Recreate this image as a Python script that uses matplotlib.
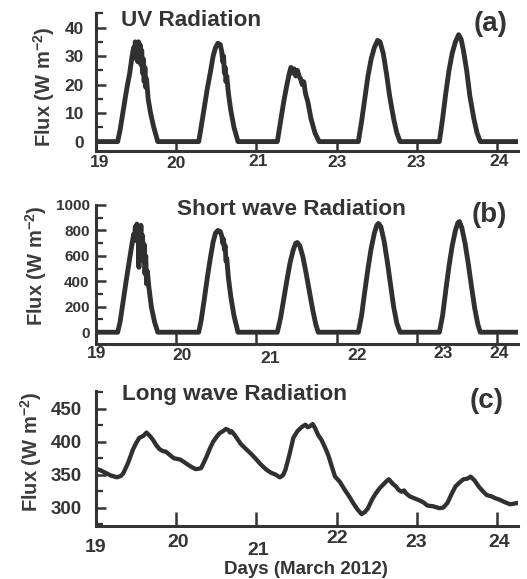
import matplotlib
matplotlib.use("Agg")
import matplotlib.pyplot as plt
import numpy as np

# ---------------- data ----------------
uv_time = [19.00, 19.27, 19.30, 19.34, 19.38, 19.42, 19.45, 19.47, 19.48, 19.49, 19.50, 19.51, 19.52,
           19.53, 19.54, 19.55, 19.56, 19.57, 19.58, 19.59, 19.60, 19.61, 19.62, 19.63, 19.65, 19.68,
           19.72, 19.77,
           20.28, 20.31, 20.35, 20.39, 20.43, 20.46, 20.49, 20.52, 20.55, 20.57, 20.58, 20.59, 20.60,
           20.61, 20.62, 20.63, 20.65, 20.68, 20.72, 20.77,
           21.26, 21.30, 21.34, 21.38, 21.41, 21.43, 21.45, 21.47, 21.49, 21.51, 21.53, 21.55, 21.57,
           21.59, 21.61, 21.64, 21.68, 21.73, 21.78,
           22.27, 22.31, 22.35, 22.39, 22.43, 22.47, 22.51, 22.54, 22.58, 22.62, 22.66, 22.71, 22.75, 22.79,
           23.28, 23.32, 23.36, 23.40, 23.44, 23.48, 23.52, 23.55, 23.58, 23.62, 23.66, 23.71, 23.75, 23.79,
           24.30]
uv_flux = [0, 0, 4, 11, 18, 24, 30, 33, 30, 35, 29, 34, 28,
           35, 30, 34, 27, 32, 24, 29, 21, 26, 19, 22, 15, 10,
           5, 0,
           0, 5, 12, 19, 25, 30, 33, 34.5, 34, 31, 28, 30, 24,
           26, 21, 23, 17, 11, 5, 0,
           0, 7, 14, 20, 24, 26, 24, 25.5, 23, 25, 23, 22, 20,
           21, 17, 14, 8, 3, 0,
           0, 7, 15, 23, 29, 33, 35.5, 35, 31, 24, 16, 8, 3, 0,
           0, 8, 17, 25, 31, 35, 37.5, 36, 32, 25, 16, 8, 3, 0,
           0]

sw_time = [19.00, 19.27, 19.30, 19.34, 19.38, 19.42, 19.45, 19.47, 19.48, 19.49, 19.50, 19.51, 19.52,
           19.53, 19.535, 19.54, 19.55, 19.56, 19.57, 19.58, 19.59, 19.60, 19.61, 19.62, 19.63, 19.64,
           19.66, 19.69, 19.73, 19.77,
           20.28, 20.31, 20.35, 20.39, 20.43, 20.46, 20.49, 20.52, 20.55, 20.57, 20.58, 20.59, 20.60,
           20.61, 20.62, 20.63, 20.65, 20.68, 20.72, 20.77,
           21.26, 21.30, 21.34, 21.38, 21.42, 21.46, 21.49, 21.51, 21.54, 21.58, 21.62, 21.66, 21.70,
           21.74, 21.77,
           22.27, 22.31, 22.35, 22.39, 22.43, 22.47, 22.50, 22.52, 22.55, 22.59, 22.63, 22.67, 22.71,
           22.75, 22.79,
           23.28, 23.32, 23.36, 23.40, 23.44, 23.48, 23.51, 23.53, 23.56, 23.60, 23.64, 23.68, 23.72,
           23.76, 23.79,
           24.30]
sw_flux = [0, 0, 80, 250, 420, 580, 700, 770, 720, 830, 740, 850, 760,
           830, 510, 800, 700, 840, 640, 760, 560, 690, 460, 600, 380, 480,
           350, 200, 80, 0,
           0, 90, 260, 440, 600, 710, 780, 800, 790, 750, 700, 730, 650,
           680, 560, 580, 430, 280, 130, 0,
           0, 110, 260, 410, 550, 650, 700, 705, 680, 590, 460, 320, 180,
           60, 0,
           0, 130, 320, 500, 660, 780, 840, 855, 830, 720, 560, 380, 200,
           70, 0,
           0, 130, 330, 520, 680, 800, 860, 870, 820, 700, 540, 360, 190,
           60, 0,
           0]

lw_time = [19.00, 19.05, 19.10, 19.18, 19.26, 19.31, 19.34, 19.40, 19.46, 19.50, 19.54, 19.59,
           19.63, 19.67, 19.71, 19.75, 19.79, 19.83, 19.87, 19.92, 19.97, 20.01, 20.05, 20.10,
           20.16, 20.20, 20.24, 20.28, 20.31, 20.35, 20.38, 20.42, 20.46, 20.50, 20.54, 20.58,
           20.62, 20.65, 20.67, 20.69, 20.73, 20.81, 20.87, 20.93, 21.00, 21.05, 21.12, 21.18,
           21.24, 21.29, 21.33, 21.36, 21.41, 21.46, 21.51, 21.56, 21.61, 21.64, 21.67, 21.70,
           21.73, 21.77, 21.81, 21.86, 21.90, 21.94, 21.98, 22.04, 22.10, 22.15, 22.21, 22.26,
           22.31, 22.35, 22.39, 22.44, 22.49, 22.54, 22.58, 22.62, 22.65, 22.70, 22.74, 22.77,
           22.81, 22.84, 22.87, 22.91, 22.97, 23.03, 23.08, 23.13, 23.20, 23.28, 23.33, 23.38,
           23.43, 23.48, 23.53, 23.58, 23.63, 23.67, 23.72, 23.77, 23.82, 23.87, 23.93, 23.98,
           24.03, 24.08, 24.12, 24.16, 24.21, 24.26]
lw_flux = [359, 357, 354, 349, 346, 348, 352, 368, 388, 398, 406, 409,
           414, 409, 403, 395, 389, 386, 385, 380, 375, 374, 373, 369,
           364, 361, 358.5, 359, 360, 370, 378, 390, 400, 407, 413, 416,
           419.5, 418, 414, 416, 410, 396, 389, 382, 373, 366, 358, 353,
           350, 346, 349, 357, 380, 406, 416, 422, 426, 422, 424, 427,
           421, 410, 403, 390, 378, 362, 347, 339, 327, 318, 306, 297,
           290, 293, 299, 312, 322, 330, 335, 340, 343, 336, 332, 327,
           324, 326, 321, 317, 314, 311, 308, 303, 302, 299, 300, 307,
           320, 332, 338, 343, 344, 347, 341, 332, 325, 319, 317, 314,
           312, 309, 307, 305, 306, 307]

tick_days = [20, 21, 22, 23, 24]
uv_xlabels = ['19', '20', '21', '23', '23', '24']
sw_xlabels = ['19', '20', '21', '22', '23', '24']
lw_xlabels = ['19', '20', '21', '22', '23', '24']

uv_yticks = [0, 10, 20, 30, 40]
sw_yticks = [0, 200, 400, 600, 800, 1000]
lw_yticks = [300, 350, 400, 450]

# label layout (x position in days, baseline drop below axis in px)
uv_lab_x = [19.04, 20.0, 21.02, 22.0, 22.99, 24.03]
uv_lab_dy = [15.7, 16.5, 15.3, 15.7, 15.7, 15.0]
sw_lab_x = [19.01, 20.07, 21.17, 22.26, 23.32, 24.02]
sw_lab_dy = [14.0, 15.7, 18.7, 15.7, 13.7, 13.7]
lw_lab_x = [19.0, 20.02, 21.02, 22.0, 22.99, 24.02]
lw_lab_dy = [26.0, 21.0, 29.3, 17.3, 21.0, 21.0]

# ---------------- style ----------------
plt.rcParams['font.family'] = ['Liberation Sans', 'DejaVu Sans']
plt.rcParams['font.weight'] = 'bold'
plt.rcParams['mathtext.fontset'] = 'custom'
plt.rcParams['mathtext.rm'] = 'Liberation Sans:bold'
plt.rcParams['mathtext.bf'] = 'Liberation Sans:bold'
plt.rcParams['mathtext.default'] = 'bf'

INK = '#343434'
LINE = '#303030'
DPI = 100
W, H = 527, 579

fig = plt.figure(figsize=(W / DPI, H / DPI), dpi=DPI)
fig.patch.set_facecolor('white')


def px_axes(left, top, right, bottom):
    return fig.add_axes([left / W, 1 - bottom / H, (right - left) / W, (bottom - top) / H])


ax_a = px_axes(96, 13.3, 518, 151)
ax_b = px_axes(96, 205, 518, 344.3)
ax_c = px_axes(96, 390.5, 518, 525.7)

XMIN, XMAX = 19.0, 24.26


def style_axes(ax, ylim, yticks, yminor, ytick_fs, ypad, xlen):
    ax.set_xlim(XMIN, XMAX)
    ax.set_ylim(*ylim)
    for s in ['top', 'right']:
        ax.spines[s].set_visible(False)
    for s in ['left', 'bottom']:
        ax.spines[s].set_linewidth(2.2)
        ax.spines[s].set_color(INK)
    ax.set_xticks(tick_days)
    ax.set_xticklabels([])
    ax.tick_params(axis='x', direction='in', length=xlen, width=1.8, color=INK)
    ax.set_yticks(yticks)
    ax.set_yticks(yminor, minor=True)
    ax.tick_params(axis='y', which='major', direction='in', length=7, width=1.8, color=INK,
                   labelsize=ytick_fs, pad=ypad, labelcolor=INK)
    ax.tick_params(axis='y', which='minor', direction='in', length=5, width=1.6, color=INK)
    for lab in ax.get_yticklabels():
        lab.set_fontweight('bold')


def x_labels(ax, labels, xs, dys, fs):
    for lab, x, dy in zip(labels, xs, dys):
        ax.annotate(lab, xy=(x, 0), xycoords=('data', 'axes fraction'),
                    xytext=(0, -dy * 72 / DPI), textcoords='offset points',
                    ha='center', va='baseline', fontsize=fs, fontweight='bold',
                    color=INK, annotation_clip=False)


TITLE_FS = 16.2
TAG_FS = 20

# Panel (a)
ax_a.plot(uv_time, uv_flux, color=LINE, lw=3.5, solid_joinstyle='round', clip_on=True)
style_axes(ax_a, (-3.3, 45), uv_yticks, [5, 15, 25, 35, 45], 12.5, 8.5, 6)
x_labels(ax_a, uv_xlabels, uv_lab_x, uv_lab_dy, 12.5)
ax_a.text(0.0585, 0.908, 'UV Radiation', transform=ax_a.transAxes, ha='left', va='baseline',
          fontsize=TITLE_FS, fontweight='bold', color=INK)
ax_a.text(0.894, 0.868, '(a)', transform=ax_a.transAxes, ha='left', va='baseline',
          fontsize=TAG_FS, fontweight='bold', color=INK)

# Panel (b)
ax_b.plot(sw_time, sw_flux, color=LINE, lw=3.5, solid_joinstyle='round')
style_axes(ax_b, (-95, 1000), sw_yticks, [100, 300, 500, 700, 900], 11, 4.5, 8)
x_labels(ax_b, sw_xlabels, sw_lab_x, sw_lab_dy, 12.5)
ax_b.text(0.191, 0.928, 'Short wave Radiation', transform=ax_b.transAxes, ha='left', va='baseline',
          fontsize=TITLE_FS, fontweight='bold', color=INK)
ax_b.text(0.890, 0.878, '(b)', transform=ax_b.transAxes, ha='left', va='baseline',
          fontsize=TAG_FS, fontweight='bold', color=INK)

# Panel (c)
ax_c.plot(lw_time, lw_flux, color=LINE, lw=3.1, solid_joinstyle='round')
style_axes(ax_c, (272.4, 478), lw_yticks, [275, 325, 375, 425, 475], 13.5, 10, 10)
x_labels(ax_c, lw_xlabels, lw_lab_x, lw_lab_dy, 14)
ax_c.text(0.0608, 0.93, 'Long wave Radiation', transform=ax_c.transAxes, ha='left', va='baseline',
          fontsize=TITLE_FS, fontweight='bold', color=INK)
ax_c.text(0.886, 0.867, '(c)', transform=ax_c.transAxes, ha='left', va='baseline',
          fontsize=TAG_FS, fontweight='bold', color=INK)

# y labels
ylab = r'Flux (W m$^{-2}$)'
YL_FS = 14.5
fig.text(44 / W, 1 - 86.7 / H, ylab, rotation=90, ha='center', va='center',
         fontsize=YL_FS, fontweight='bold', color='#3c3c3c')
fig.text(36 / W, 1 - 266 / H, ylab, rotation=90, ha='center', va='center',
         fontsize=YL_FS, fontweight='bold', color='#3c3c3c')
fig.text(31 / W, 1 - 452 / H, ylab, rotation=90, ha='center', va='center',
         fontsize=YL_FS, fontweight='bold', color='#3c3c3c')

# x label
fig.text(306 / W, 1 - 569 / H, 'Days (March 2012)', ha='center', va='center',
         fontsize=13.5, fontweight='bold', color=INK)

fig.savefig('out.png', dpi=DPI, facecolor='white')
